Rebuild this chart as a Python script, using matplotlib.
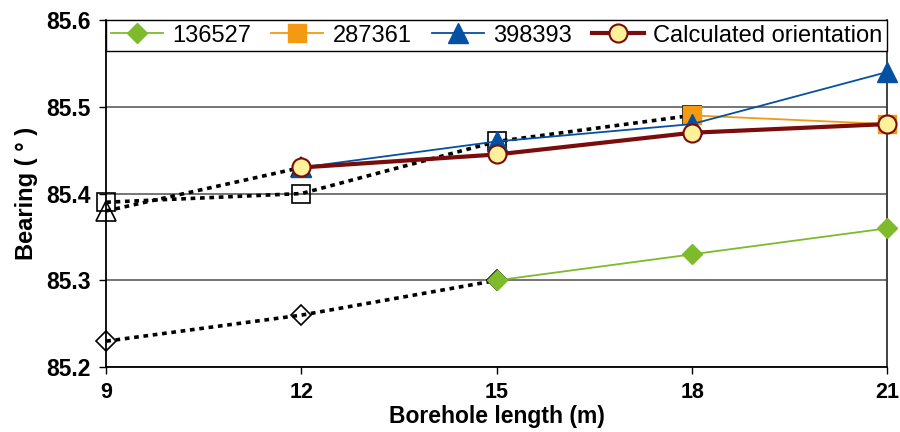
import matplotlib
matplotlib.use("Agg")
import matplotlib.pyplot as plt

plt.rcParams['font.family'] = ['Liberation Sans', 'DejaVu Sans']

# Borehole length positions (m)
x_ticks = [9, 12, 15, 18, 21]
y_ticks = [85.2, 85.3, 85.4, 85.5, 85.6]

# Measured bearings per probe (solid segments)
x_136527 = [15, 18, 21]
y_136527 = [85.30, 85.33, 85.36]
x_287361 = [18, 21]
y_287361 = [85.49, 85.48]
x_398393 = [12, 15, 18, 21]
y_398393 = [85.43, 85.46, 85.48, 85.54]
x_calc = [12, 15, 18, 21]
y_calc = [85.43, 85.445, 85.47, 85.48]

# Shallower readings (dotted extensions)
x_136527_ext = [9, 12, 15]
y_136527_ext = [85.23, 85.26, 85.30]
x_287361_ext = [9, 12, 15, 18]
y_287361_ext = [85.39, 85.40, 85.46, 85.49]
x_398393_ext = [9, 12]
y_398393_ext = [85.38, 85.43]

fig = plt.figure(figsize=(9, 4.32), dpi=100)
ax = fig.add_axes([0.118, 0.150, 0.868, 0.804])

dot = dict(color='black', lw=2.6, linestyle=(0, (1.3, 1.3)), mfc='none',
           mec='black', mew=1.2, zorder=2, clip_on=False)
ax.plot(x_136527_ext, y_136527_ext, marker='D', ms=10, **dot)
ax.plot(x_287361_ext, y_287361_ext, marker='s', ms=13, **dot)
ax.plot(x_398393_ext, y_398393_ext, marker='^', ms=14, **dot)

ax.plot(x_136527, y_136527, color='#7DBB2C', lw=1.3, marker='D', ms=10,
        mfc='#7DBB2C', mec='#7DBB2C', label='136527', zorder=3, clip_on=False)
ax.plot(x_287361, y_287361, color='#F39A12', lw=1.3, marker='s', ms=13,
        mfc='#F39A12', mec='#F39A12', label='287361', zorder=4, clip_on=False)
ax.plot(x_398393, y_398393, color='#0451A3', lw=1.3, marker='^', ms=14,
        mfc='#0451A3', mec='#0451A3', label='398393', zorder=5, clip_on=False)
ax.plot(x_calc, y_calc, color='#7A0C0C', lw=3, marker='o', ms=13,
        mfc='#FFF19A', mec='#7A0C0C', mew=1.5,
        label='Calculated orientation', zorder=6, clip_on=False)

ax.set_xlim(9, 21)
ax.set_ylim(85.2, 85.6)
ax.set_xticks(x_ticks)
ax.set_xticklabels([str(v) for v in x_ticks])
ax.set_yticks(y_ticks)
ax.set_yticklabels([f'{v:.1f}' for v in y_ticks])
ax.tick_params(axis='y', labelsize=16.5, length=5, width=1, color='black', pad=6)
ax.tick_params(axis='x', labelsize=15.5, length=5, width=1, color='black', pad=6)
for lab in ax.get_xticklabels() + ax.get_yticklabels():
    lab.set_fontweight('bold')

ax.yaxis.grid(True, color='#5E5E5E', lw=1.2)
ax.set_axisbelow(True)
for side in ['left', 'bottom']:
    ax.spines[side].set_color('black')
    ax.spines[side].set_linewidth(1.3)
ax.spines['right'].set_color('#333333')
ax.spines['right'].set_linewidth(1.3)
ax.spines['top'].set_color('#6E6E6E')

ax.set_xlabel('Borehole length (m)', fontsize=16.5, fontweight='bold', labelpad=1)
ax.set_ylabel('Bearing ( ° )', fontsize=17, fontweight='bold', labelpad=6)

leg = ax.legend(loc='upper left', bbox_to_anchor=(0, 0.905, 1, 0.095),
                mode='expand', ncol=4, borderaxespad=0, fontsize=17,
                frameon=True, fancybox=False, handlelength=2.2,
                handletextpad=0.4, borderpad=0.2, columnspacing=1.0)
leg.get_frame().set_edgecolor('black')
leg.get_frame().set_linewidth(1.0)
leg.get_frame().set_alpha(1)
leg.set_zorder(10)

fig.savefig('out.png', dpi=100)
